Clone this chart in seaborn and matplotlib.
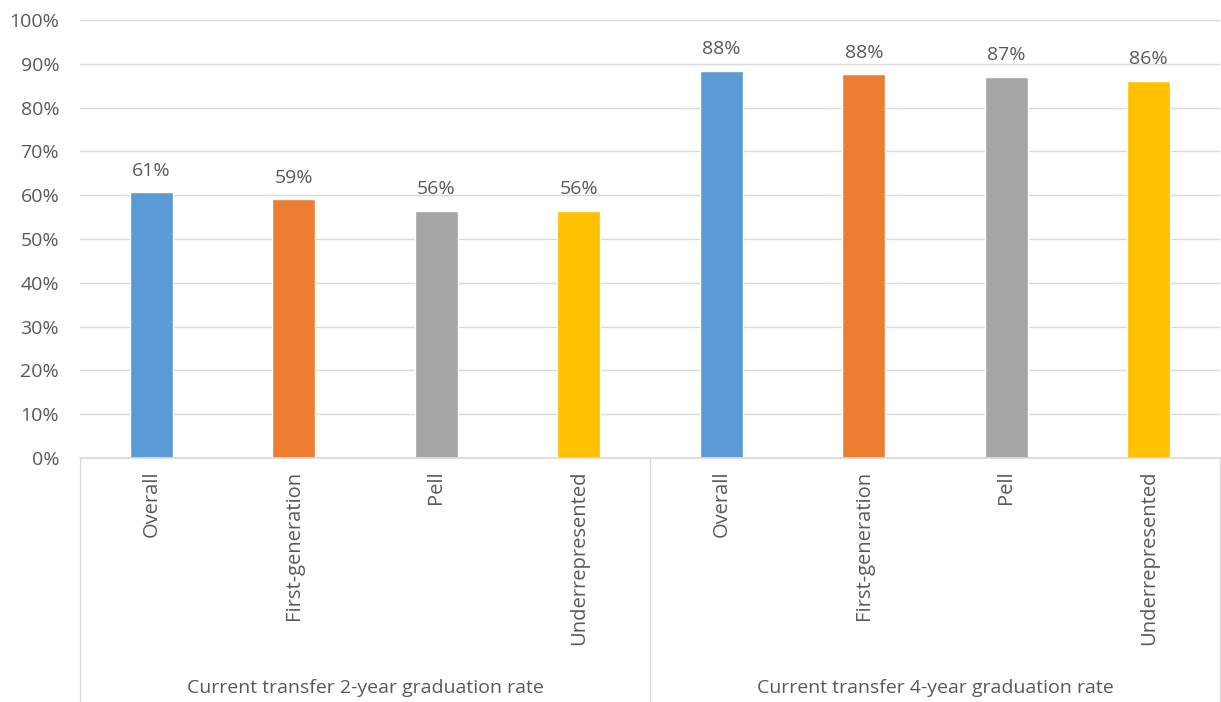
import matplotlib
matplotlib.use("Agg")
import matplotlib.pyplot as plt
import seaborn as sns
import pandas as pd

groups = ["Current transfer 2-year graduation rate", "Current transfer 4-year graduation rate"]
categories = ["Overall", "First-generation", "Pell", "Underrepresented"]
rate_2yr = [60.7, 59.1, 56.4, 56.4]
rate_4yr = [88.4, 87.6, 87.1, 86.1]
labels_2yr = ["61%", "59%", "56%", "56%"]
labels_4yr = ["88%", "88%", "87%", "86%"]
colors = ["#5B9BD5", "#ED7D31", "#A5A5A5", "#FFC000"]

rows = []
for g, vals, labs in [(groups[0], rate_2yr, labels_2yr), (groups[1], rate_4yr, labels_4yr)]:
    for c, v, l in zip(categories, vals, labs):
        rows.append({"key": f"{g}|{c}", "group": g, "category": c, "value": v, "label": l})
df = pd.DataFrame(rows)

sns.set_theme(style="white")
plt.rcParams['font.family'] = ['Open Sans', 'DejaVu Sans']
text_color = "#595959"
grid_color = "#D9D9D9"
fs = 14

fig = plt.figure(figsize=(12.21, 7.02), dpi=100)
ax = fig.add_axes([80 / 1221, 1 - 458 / 702, (1221 - 81) / 1221, (458 - 20) / 702])

sns.barplot(data=df, x="key", y="value", hue="category", palette=colors,
            hue_order=categories, dodge=False, width=0.3, legend=False, ax=ax,
            saturation=1)

ax.set_ylim(0, 100)
ax.set_xlim(-0.5, len(df) - 0.5)
ax.set_yticks(range(0, 101, 10))
ax.set_yticklabels([f"{t}%" for t in range(0, 101, 10)], color=text_color, fontsize=fs)
ax.yaxis.grid(True, color=grid_color, linewidth=1)
ax.set_axisbelow(True)
ax.set_xlabel("")
ax.set_ylabel("")
ax.tick_params(axis="y", length=0, pad=15)
ax.tick_params(axis="x", length=0, pad=9)
ax.set_xticks(range(len(df)))
ax.set_xticklabels(df["category"], rotation=90, color=text_color, fontsize=14.5, va="top")
for s in ["top", "right", "left"]:
    ax.spines[s].set_visible(False)
ax.spines["bottom"].set_color(grid_color)

patches = sorted(ax.patches, key=lambda p: p.get_x())
for patch, lab in zip(patches, df["label"]):
    h = patch.get_height()
    ax.annotate(lab, (patch.get_x() + patch.get_width() / 2, h), xytext=(0, 9),
                textcoords="offset points", ha="center", va="bottom",
                color=text_color, fontsize=fs)

# group separators and group labels
trans = ax.get_xaxis_transform()
for xpos in [-0.5, 3.5, 7.5]:
    ax.plot([xpos, xpos], [0, -244 / 438], transform=trans, color=grid_color,
            linewidth=1, clip_on=False)
for i, g in enumerate(groups):
    ax.text(1.5 + 4 * i, -230 / 438, g, transform=trans, ha="center", va="center",
            color=text_color, fontsize=fs)

fig.savefig("out.png", dpi=100)
